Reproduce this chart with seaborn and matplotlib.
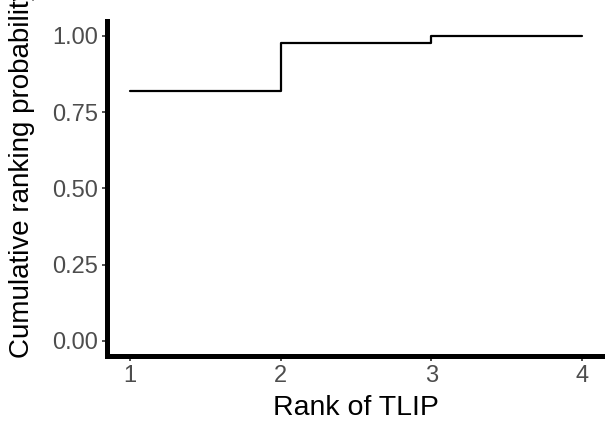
import matplotlib
matplotlib.use("Agg")
import matplotlib.pyplot as plt
import seaborn as sns
import pandas as pd

# 데이터: 순위별 누적 확률
ranks = [1, 2, 3, 4]
cum_prob = [0.821, 0.978, 1.0, 1.0]
x_ticks = [1, 2, 3, 4]
y_ticks = [0.00, 0.25, 0.50, 0.75, 1.00]
y_tick_labels = ["0.00", "0.25", "0.50", "0.75", "1.00"]

df = pd.DataFrame({"rank": ranks, "prob": cum_prob})

sns.set_theme(style="ticks")
plt.rcParams["font.family"] = ["Liberation Sans", "DejaVu Sans"]

fig = plt.figure(figsize=(6.05, 4.32), dpi=100)
ax = fig.add_axes([0.177, 0.176, 0.823, 0.776])

sns.lineplot(data=df, x="rank", y="prob", drawstyle="steps-post",
             color="black", linewidth=1.6, ax=ax)

ax.set_xlim(0.85, 4.15)
ax.set_ylim(-0.05, 1.05)
ax.set_xticks(x_ticks)
ax.set_yticks(y_ticks)
ax.set_yticklabels(y_tick_labels)
ax.tick_params(axis="both", labelsize=17, colors="#333333", labelcolor="#4D4D4D",
               length=3.5, width=1.2, pad=3)

for s in ["top", "right"]:
    ax.spines[s].set_visible(False)
for s in ["left", "bottom"]:
    ax.spines[s].set_linewidth(3.6)
    ax.spines[s].set_color("black")
    ax.spines[s].set_capstyle("projecting")

ax.set_xlabel("Rank of TLIP", fontsize=20.5, color="black", labelpad=6)
ax.set_ylabel("")
# 축 제목이 위쪽 가장자리에서 잘림 (원본과 동일)
fig.text(22 / 605, 1 - 358 / 432, "Cumulative ranking probability", rotation=90,
         ha="center", va="bottom", fontsize=20, color="black")

fig.savefig("out.png", dpi=100)
